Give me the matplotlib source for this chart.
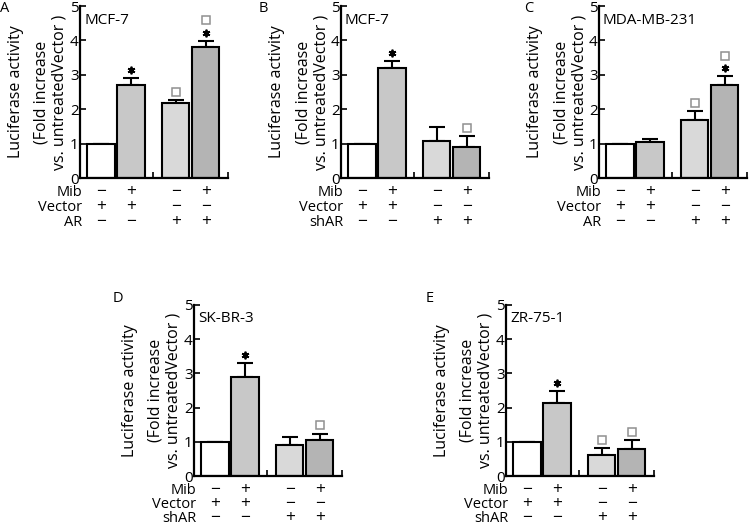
import matplotlib
matplotlib.use("Agg")
import matplotlib.pyplot as plt

plt.rcParams['font.family'] = ['Open Sans', 'DejaVu Sans']

W, H = 750, 524

# bar order within each panel: untreated vector, Mib vector, untreated AR/shAR, Mib AR/shAR
positions = [0, 1, 2.5, 3.5]
bar_colors = ['white', '#c8c8c8', '#d9d9d9', '#b4b4b4']

letters = ['A', 'B', 'C', 'D', 'E']
cells = ['MCF-7', 'MCF-7', 'MDA-MB-231', 'SK-BR-3', 'ZR-75-1']
third_row = ['AR', 'shAR', 'AR', 'shAR', 'shAR']

means = [
    [1.0, 2.70, 2.19, 3.80],
    [1.0, 3.20, 1.09, 0.90],
    [1.0, 1.05, 1.69, 2.70],
    [1.0, 2.89, 0.90, 1.05],
    [1.0, 2.12, 0.60, 0.80],
]
errors = [
    [0.0, 0.20, 0.07, 0.18],
    [0.0, 0.20, 0.38, 0.32],
    [0.0, 0.09, 0.26, 0.26],
    [0.0, 0.41, 0.23, 0.19],
    [0.0, 0.36, 0.21, 0.26],
]
# significance marks above each bar, bottom to top
marks = [
    ['', '*', 's', '*s'],
    ['', '*', '', 's'],
    ['', '', 's', '*s'],
    ['', '*', '', 's'],
    ['', '*', 's', 's'],
]

mib = ['−', '+', '−', '+']
vector = ['+', '+', '−', '−']
ar = ['−', '−', '+', '+']

# axes boxes in pixels: left, top, bottom; and spacing of treatment rows
boxes = [(80, 6, 178), (341, 6, 178), (599, 6, 178), (194, 305, 476), (506, 305, 476)]
row_gap = [15, 15, 15, 14, 14]
letter_xy = [(5, 8), (263, 8), (529, 8), (118, 299), (430, 299)]
ax_w = 148
fs = 10.5
pt = 0.72  # points per pixel at dpi 100

fig = plt.figure(figsize=(7.5, 5.24), dpi=100)

for i in range(5):
    left, top, bottom = boxes[i]
    ax = fig.add_axes([left / W, 1 - bottom / H, ax_w / W, (bottom - top) / H])
    ax.bar(positions, means[i], width=0.92, color=bar_colors,
           edgecolor='black', linewidth=1.5, zorder=2)
    ax.errorbar(positions, means[i], yerr=[[0] * 4, errors[i]], fmt='none',
                ecolor='black', elinewidth=1.5, capsize=5.5, capthick=1.5, zorder=1)
    for x, m, e, mk in zip(positions, means[i], errors[i], marks[i]):
        y = m + e + 0.24
        for c in mk:
            if c == '*':
                ax.plot(x, y, marker=(6, 2, 0), ms=5.5, color='black', mew=1.3)
            else:
                ax.plot(x, y, marker='s', ms=6, mfc='none', mec='#909090', mew=1.1)
            y += 0.36

    ax.set_xlim(-0.7, 4.25)
    ax.set_ylim(0, 5)
    ax.set_yticks([0, 1, 2, 3, 4, 5])
    ax.set_xticks([1.75, 4.25])
    ax.set_xticklabels([])
    ax.tick_params(direction='in', length=4, width=1.2, labelsize=fs + 0.5, pad=1)
    for s in ['top', 'right']:
        ax.spines[s].set_visible(False)
    for s in ['left', 'bottom']:
        ax.spines[s].set_linewidth(1.6)

    ax.annotate(cells[i], xy=(0, 1), xycoords='axes fraction',
                xytext=(4 * pt, -14 * pt), textcoords='offset points',
                ha='left', va='center', fontsize=fs + 0.5)

    # y label lines
    for txt, off in [('Luciferase activity', -60), ('(Fold increase', -34),
                     ('vs. untreatedVector )', -16)]:
        ax.annotate(txt, xy=(0, 0.5), xycoords='axes fraction',
                    xytext=(off * pt, 0), textcoords='offset points',
                    rotation=90, rotation_mode='anchor', ha='center', va='baseline',
                    fontsize=11.5)

    # treatment rows
    rows = [('Mib', mib), ('Vector', vector), (third_row[i], ar)]
    for r, (name, signs) in enumerate(rows):
        dy = -(14 + row_gap[i] * r) * pt
        ax.annotate(name, xy=(-0.62, 0), xycoords=('data', 'axes fraction'),
                    xytext=(0, dy), textcoords='offset points',
                    ha='right', va='center', fontsize=fs, annotation_clip=False)
        for x, s in zip(positions, signs):
            ax.annotate(s, xy=(x, 0), xycoords=('data', 'axes fraction'),
                        xytext=(0, dy), textcoords='offset points',
                        ha='center', va='center', fontsize=12.5,
                        annotation_clip=False)

    lx, ly = letter_xy[i]
    fig.text(lx / W, 1 - ly / H, letters[i], ha='center', va='center', fontsize=fs)

fig.savefig('out.png', dpi=100)
